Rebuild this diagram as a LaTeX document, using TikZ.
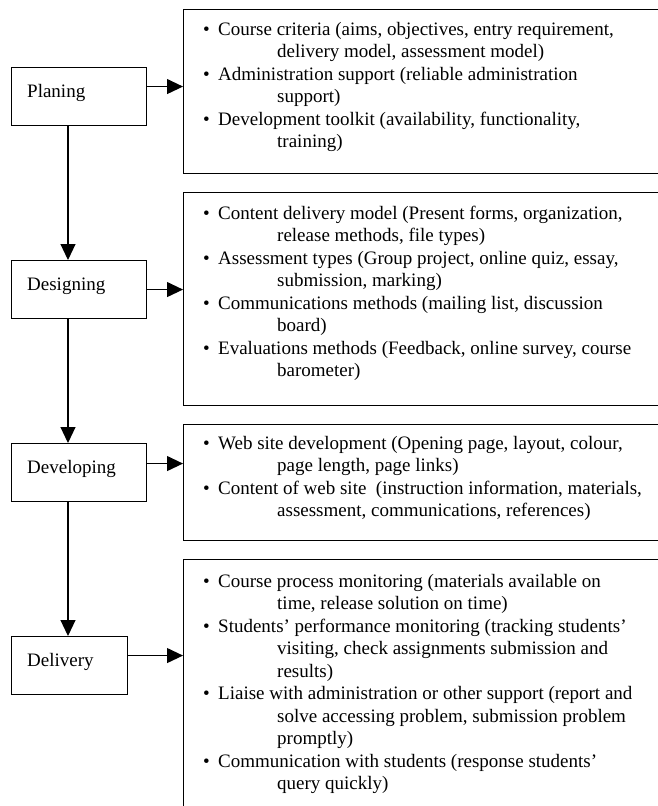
\documentclass[tikz,border=0pt]{standalone}
\usepackage{fontspec}
\setmainfont{Liberation Serif}
\usetikzlibrary{arrows.meta}
\newcommand{\bl}{\makebox[15pt][l]{\textbullet}}
\newcommand{\ct}{\hspace*{74pt}}
\begin{document}
\begin{tikzpicture}[x=1pt,y=-1pt,
  lbox/.style={draw, line width=1.1pt, rectangle, minimum height=58pt, inner sep=0pt, anchor=north west},
  rbox/.style={draw, line width=1.1pt, rectangle, inner sep=0pt, anchor=north west, minimum width=540pt},
  ltext/.style={anchor=base west, inner sep=0pt, font=\fontsize{19}{22.5}\selectfont},
  rtext/.style={anchor=base west, inner sep=0pt, align=left, font=\fontsize{19}{22.5}\selectfont},
  arr/.style={line width=1.1pt, -{Triangle[length=16pt,width=15pt]}}]
\useasboundingbox (0,0) rectangle (658,806);
\clip (0,0) rectangle (658,806);
\fill[white] (0,0) rectangle (658,806);
\coordinate (spine) at (68,0);
% left boxes
\node[lbox, minimum width=135pt] (pl) at (11,67) {};
\node[ltext] (plt) at (27,97) {Planing};
\node[lbox, minimum width=135pt] (de) at (11,260) {};
\node[ltext] (det) at (27,290) {Designing};
\node[lbox, minimum width=135pt] (dv) at (11,443) {};
\node[ltext] (dvt) at (27,473) {Developing};
\node[lbox, minimum width=116pt] (dl) at (11,636) {};
\node[ltext] (dlt) at (27,666) {Delivery};
% right boxes
\node[rbox, minimum height=164pt] (ra) at (183,9) {};
\node[rbox, minimum height=213pt] (rb) at (183,192) {};
\node[rbox, minimum height=116pt] (rc) at (183,424) {};
\node[rbox, minimum height=300pt] (rd) at (183,559) {};
% text blocks: anchor is the baseline of the last line
\node[rtext] (rat) at (203,147.5) {%
\bl Course criteria (aims, objectives, entry requirement,\\
\ct delivery model, assessment model)\\
\bl Administration support (reliable administration\\
\ct support)\\
\bl Development toolkit (availability, functionality,\\
\ct training)};
\node[rtext] (rbt) at (203,376.5) {%
\bl Content delivery model (Present forms, organization,\\
\ct release methods, file types)\\
\bl Assessment types (Group project, online quiz, essay,\\
\ct submission, marking)\\
\bl Communications methods (mailing list, discussion\\
\ct board)\\
\bl Evaluations methods (Feedback, online survey, course\\
\ct barometer)};
\node[rtext] (rct) at (203,516.5) {%
\bl Web site development (Opening page, layout, colour,\\
\ct page length, page links)\\
\bl Content of web site\ \ (instruction information, materials,\\
\ct assessment, communications, references)};
\node[rtext] (rdt) at (203,789.5) {%
\bl Course process monitoring (materials available on\\
\ct time, release solution on time)\\
\bl Students’ performance monitoring (tracking students’\\
\ct visiting, check assignments submission and\\
\ct results)\\
\bl Liaise with administration or other support (report and\\
\ct solve accessing problem, submission problem\\
\ct promptly)\\
\bl Communication with students (response students’\\
\ct query quickly)};
% vertical connectors
\draw[arr] (pl.south -| spine) -- (de.north -| spine);
\draw[arr] (de.south -| spine) -- (dv.north -| spine);
\draw[arr] (dv.south -| spine) -- (dl.north -| spine);
% horizontal connectors
\coordinate (pa) at ([yshift=10pt]pl.east);
\coordinate (da) at (de.east);
\coordinate (va) at ([yshift=9pt]dv.east);
\coordinate (la) at ([yshift=10pt]dl.east);
\draw[arr] (pa) -- (pa -| ra.west);
\draw[arr] (da) -- (da -| rb.west);
\draw[arr] (va) -- (va -| rc.west);
\draw[arr] (la) -- (la -| rd.west);
\end{tikzpicture}
\end{document}
